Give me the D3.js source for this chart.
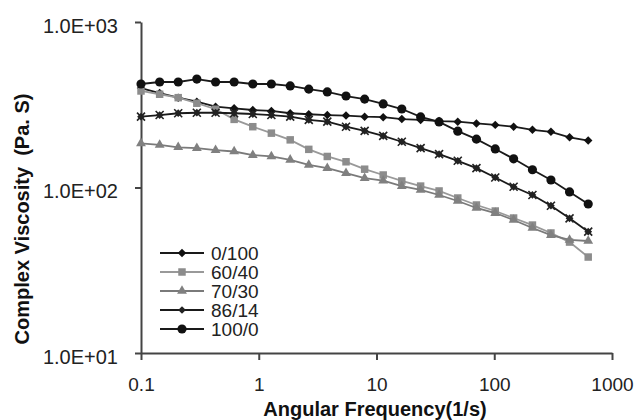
<!DOCTYPE html>
<html>
<head>
<meta charset="utf-8">
<script src="https://cdn.jsdelivr.net/npm/d3@7"></script>
<style>
  body { margin: 0; background: #fff; }
  svg { font-family: Arial, "Liberation Sans", sans-serif; }
</style>
</head>
<body>
<svg id="chart" width="640" height="420"></svg>
<script>
// angular frequency (1/s), 25 points per sweep
var freq = [0.1, 0.144, 0.207, 0.298, 0.43, 0.618, 0.89, 1.28, 1.85, 2.66, 3.82, 5.51, 7.93,
  11.4, 16.4, 23.7, 34.0, 49.0, 70.6, 102, 146, 211, 303, 436, 628];

var seriesNames = ["0/100", "60/40", "70/30", "86/14", "100/0"];

var s0_100 = [399, 372, 349, 330, 308, 301, 294, 290, 281, 277, 274, 272, 268,
  266, 259, 256, 252, 250, 244, 239, 233, 223, 217, 201, 192];
var s60_40 = [383, 366, 349, 323, 297, 258, 233, 213, 194, 170, 154, 143, 129,
  119, 109.5, 102, 95.3, 86.4, 78.4, 72.1, 65.4, 59.3, 53.1, 46.8, 38.0];
var s70_30 = [185, 181, 175, 173, 168, 165, 157, 154, 147, 137, 131, 122, 114,
  110, 102, 96.6, 90.1, 82.9, 75.2, 70.1, 63.6, 56.9, 51.6, 48.2, 47.5];
var s86_14 = [268, 274, 281, 283, 283, 281, 278, 274, 268, 256, 250, 233, 220,
  205, 189, 173, 159, 145, 131, 115, 101, 90.1, 77.6, 65.1, 54.1];
var s100_0 = [422, 434, 434, 452, 434, 434, 422, 422, 411, 393, 378, 357, 342,
  320, 298, 267, 249, 219, 196, 171, 149, 128, 111, 94, 79.5];

var xTicks = [0.1, 1, 10, 100, 1000];
var xTickLabels = ["0.1", "1", "10", "100", "1000"];
var yTicks = [10, 100, 1000];
var yTickLabels = ["1.0E+01", "1.0E+02", "1.0E+03"];

var seriesValues = [s0_100, s60_40, s70_30, s86_14, s100_0];

var style = {
  "0/100": {line: "#1a1a1a", fill: "#111", shape: "diamond", size: 36},
  "60/40": {line: "#999", fill: "#8c8c8c", shape: "square", size: 56},
  "70/30": {line: "#7a7a7a", fill: "#808080", shape: "triangle", size: 42},
  "86/14": {line: "#1a1a1a", fill: "#222", shape: "x", size: 30},
  "100/0": {line: "#1a1a1a", fill: "#111", shape: "circle", size: 66}
};

var svg = d3.select("#chart");

var x = d3.scaleLog().domain([0.1, 1000]).range([141, 612]);
var y = d3.scaleLog().domain([10, 1000]).range([353, 22]);

// axes
var xAxis = d3.axisBottom(x)
  .tickValues(xTicks)
  .tickFormat(function(d, i) { return xTickLabels[i]; })
  .tickSize(7)
  .tickSizeOuter(0)
  .tickPadding(18);

var yAxis = d3.axisLeft(y)
  .tickValues(yTicks)
  .tickFormat(function(d, i) { return yTickLabels[i]; })
  .tickSize(6)
  .tickSizeOuter(0)
  .tickPadding(17);

var gx = svg.append("g")
  .attr("transform", "translate(0," + y(10) + ")")
  .call(xAxis);

var gy = svg.append("g")
  .attr("transform", "translate(" + x(0.1) + ",0)")
  .call(yAxis);

[gx, gy].forEach(function(g) {
  g.select(".domain").attr("stroke", "#444").attr("stroke-width", 2);
  g.selectAll(".tick line").attr("stroke", "#444").attr("stroke-width", 2);
  g.selectAll(".tick text")
    .attr("fill", "#222")
    .style("font-size", "20px")
    .style("font-family", "Arial, 'Liberation Sans', sans-serif");
});
gx.selectAll(".tick text").style("font-size", "19px");
gy.selectAll(".tick text").attr("dy", "0.5em");

// titles
svg.append("text")
  .attr("x", 375)
  .attr("y", 416)
  .attr("text-anchor", "middle")
  .style("font-size", "20px")
  .style("font-weight", "bold")
  .attr("fill", "#111")
  .text("Angular Frequency(1/s)");

svg.append("text")
  .attr("transform", "translate(29,219) rotate(-90)")
  .attr("text-anchor", "middle")
  .style("font-size", "20px")
  .style("font-weight", "bold")
  .style("white-space", "pre")
  .attr("fill", "#111")
  .text("Complex Viscosity  (Pa. S)");

function symbolPath(shape, size) {
  if (shape == "circle") return d3.symbol(d3.symbolCircle, size)();
  if (shape == "triangle") return d3.symbol(d3.symbolTriangle, size)();
  return d3.symbol(d3.symbolSquare, size)();
}

var line = d3.line()
  .x(function(d) { return x(d[0]); })
  .y(function(d) { return y(d[1]); });

seriesNames.forEach(function(name, i) {
  var st = style[name];
  var pts = freq.map(function(f, j) { return [f, seriesValues[i][j]]; });

  svg.append("path")
    .datum(pts)
    .attr("fill", "none")
    .attr("stroke", st.line)
    .attr("stroke-width", 1.8)
    .attr("d", line);

  var rot = st.shape == "diamond" || st.shape == "x" ? " rotate(45)" : "";
  svg.append("g").selectAll("path")
    .data(pts)
    .enter()
    .append("path")
    .attr("transform", function(d) { return "translate(" + x(d[0]) + "," + y(d[1]) + ")" + rot; })
    .attr("d", symbolPath(st.shape, st.size))
    .attr("fill", st.fill);

  if (st.shape == "x") {
    svg.append("g").selectAll("path")
      .data(pts)
      .enter()
      .append("path")
      .attr("transform", function(d) { return "translate(" + x(d[0]) + "," + y(d[1]) + ")"; })
      .attr("d", "M-4,-4L4,4M-4,4L4,-4")
      .attr("stroke", st.fill)
      .attr("stroke-width", 1.6);
  }
});

// legend
var legend = svg.append("g").attr("transform", "translate(160,253)");
var rows = legend.selectAll("g")
  .data(seriesNames)
  .enter()
  .append("g")
  .attr("transform", function(d, i) { return "translate(0," + (i * 19) + ")"; });

rows.append("line")
  .attr("x1", 0).attr("x2", 44)
  .attr("stroke", function(d) { return style[d].line; })
  .attr("stroke-width", 1.8);

rows.append("path")
  .attr("transform", function(d) {
    var s = style[d].shape;
    return "translate(22,0)" + (s == "diamond" || s == "x" ? " rotate(45)" : "");
  })
  .attr("d", function(d) { return symbolPath(style[d].shape, style[d].size); })
  .attr("fill", function(d) { return style[d].fill; });

rows.append("text")
  .attr("x", 51)
  .attr("dy", "0.36em")
  .style("font-size", "19px")
  .attr("fill", "#222")
  .text(function(d) { return d; });
</script>
</body>
</html>
